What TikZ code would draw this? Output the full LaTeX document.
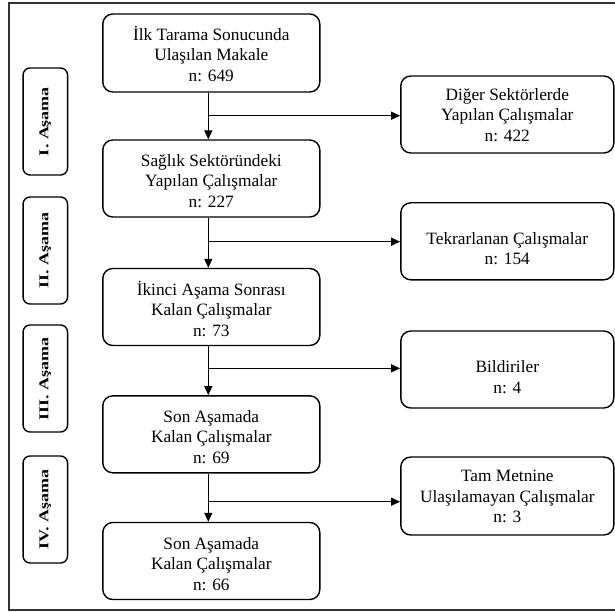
\documentclass[tikz,border=0pt]{standalone}
\usepackage{fontspec}
\setmainfont{Liberation Serif}
\usetikzlibrary{arrows.meta}
\newcommand\tstrut{\rule{0pt}{16pt}}
\begin{document}
\begin{tikzpicture}[x=1pt,y=-1pt,
  mainbox/.style={draw,line width=1.4pt,rounded corners=10pt,inner sep=0pt,
    minimum width=217pt,minimum height=77pt},
  sidebox/.style={mainbox,minimum width=213pt},
  maintxt/.style={align=center,inner sep=0pt,anchor=north,
    font=\fontsize{17.3}{20.5}\selectfont},
  sidetxt/.style={maintxt},
  stagebox/.style={draw,line width=1.4pt,rounded corners=7pt,rotate=90,
    font=\bfseries\fontsize{18}{20}\selectfont,inner sep=0pt,
    minimum width=107pt,minimum height=44.5pt},
  arr/.style={line width=1.4pt,-{Triangle[length=9pt,width=8pt]}}]
\useasboundingbox (0,0) rectangle (615,612);
\draw[line width=1.2pt,black!80] (9,3) rectangle (617,610);

% left column
\node[mainbox,minimum height=78pt] (b1) at (211.3,53) {};
\node[mainbox] (b2) at (211.3,178.5) {};
\node[mainbox] (b3) at (211.3,307) {};
\node[mainbox] (b4) at (211.3,434.3) {};
\node[mainbox] (b5) at (211.3,561) {};
\node[maintxt] (t1) at ([yshift=-11pt]b1.north) {\tstrut İlk Tarama Sonucunda\\Ulaşılan Makale\\n: 649};
\node[maintxt] (t2) at ([yshift=-11pt]b2.north) {\tstrut Sağlık Sektöründeki\\Yapılan Çalışmalar\\n: 227};
\node[maintxt] (t3) at ([yshift=-11pt]b3.north) {\tstrut İkinci Aşama Sonrası\\Kalan Çalışmalar\\n: 73};
\node[maintxt] (t4) at ([yshift=-11pt]b4.north) {\tstrut Son Aşamada\\Kalan Çalışmalar\\n: 69};
\node[maintxt] (t5) at ([yshift=-11pt]b5.north) {\tstrut Son Aşamada\\Kalan Çalışmalar\\n: 66};

% right column
\node[sidebox] (r1) at (507.3,114.5) {};
\node[sidebox] (r2) at (507.3,241.3) {};
\node[sidebox] (r3) at (507.3,369.5) {};
\node[sidebox,minimum height=78pt] (r4) at (507.3,496) {};
\node[sidetxt] (u1) at ([yshift=-9pt]r1.north) {\tstrut Diğer Sektörlerde\\Yapılan Çalışmalar\\n: 422};
\node[sidetxt] (u2) at ([yshift=-26pt]r2.north) {\tstrut Tekrarlanan Çalışmalar\\n: 154};
\node[sidetxt] (u3) at ([yshift=-26pt]r3.north) {\tstrut Bildiriler\\n: 4};
\node[sidetxt] (u4) at ([yshift=-9pt]r4.north) {\tstrut Tam Metnine\\Ulaşılamayan Çalışmalar\\n: 3};

% stage labels
\node[stagebox] (s1) at (45.3,121.5) {\scalebox{1}[0.75]{I. Aşama}};
\node[stagebox] (s2) at (45.3,250.5) {\scalebox{1}[0.75]{II. Aşama}};
\node[stagebox] (s3) at (45.3,378.5) {\scalebox{1}[0.75]{III. Aşama}};
\node[stagebox] (s4) at (45.3,509.5) {\scalebox{1}[0.75]{IV. Aşama}};

% connectors
\coordinate (v) at (208.3,0);
\coordinate (j1) at (208.3,115.7);
\coordinate (j2) at (208.3,241.7);
\coordinate (j3) at (208.3,368.3);
\coordinate (j4) at (208.3,501.7);
\draw[arr] (b1.south -| v) -- (b2.north -| v);
\draw[arr] (b2.south -| v) -- (b3.north -| v);
\draw[arr] (b3.south -| v) -- (b4.north -| v);
\draw[arr] (b4.south -| v) -- (b5.north -| v);
\draw[arr] (j1) -- (j1 -| r1.west);
\draw[arr] (j2) -- (j2 -| r2.west);
\draw[arr] (j3) -- (j3 -| r3.west);
\draw[arr] (j4) -- (j4 -| r4.west);
\end{tikzpicture}
\end{document}
